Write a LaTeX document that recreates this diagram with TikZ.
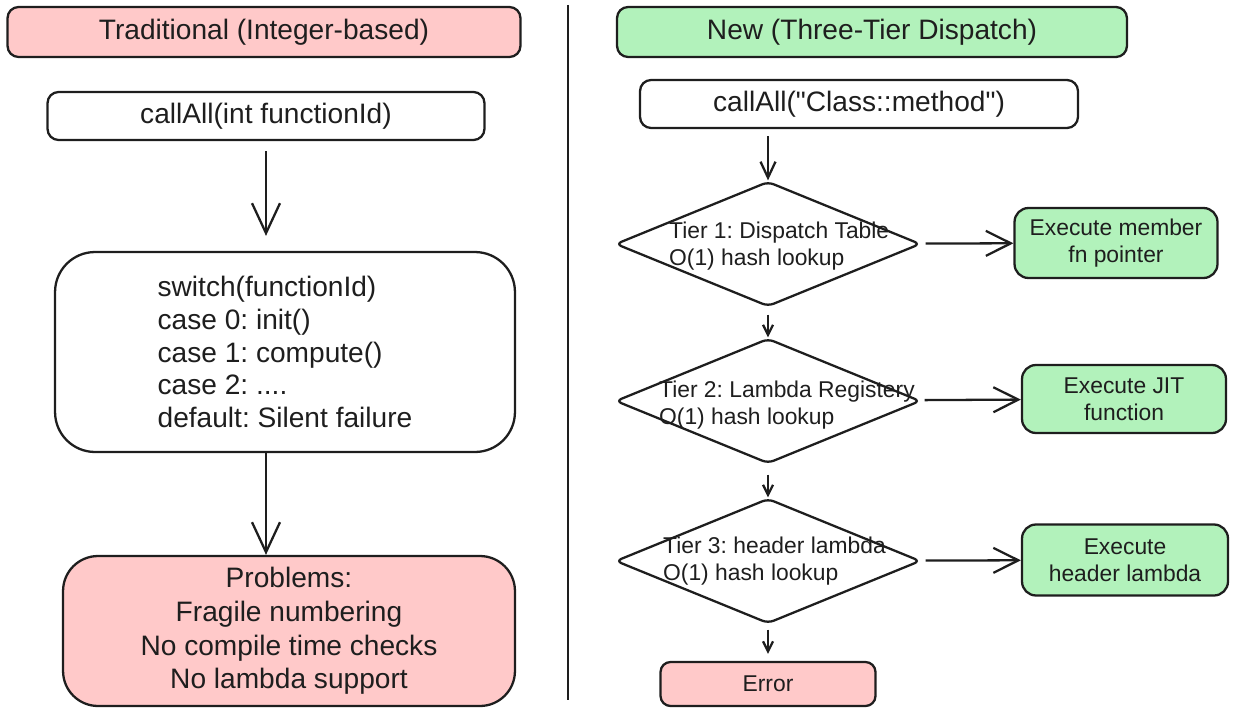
\documentclass[tikz,border=0pt]{standalone}
\usepackage{fontspec}
\setmainfont{Liberation Sans}
\usetikzlibrary{shapes.geometric,arrows.meta}
\definecolor{pinkfill}{HTML}{FFC9C9}
\definecolor{greenfill}{HTML}{B2F2BB}
\definecolor{ink}{HTML}{1E1E1E}
\frenchspacing
\begin{document}
\begin{tikzpicture}[x=0.02cm,y=-0.02cm,line width=1.3pt,ink,
    box/.style={draw=ink,rounded corners=0.22cm,inner sep=0pt,font=\fontsize{16}{18.7}\selectfont},
    tier/.style={draw=ink,shape=diamond,minimum width=6.1cm,minimum height=2.5cm,inner sep=0pt,rounded corners=0.12cm},
    tiertext/.style={anchor=west,align=left,inner sep=0pt,font=\fontsize{13}{15.3}\selectfont},
    exec/.style={box,fill=greenfill,rounded corners=0.28cm,align=center,font=\fontsize{13}{15.3}\selectfont},
    bigarr/.style={-{Straight Barb[length=0.6cm,width=0.56cm]}},
    midarr/.style={-{Straight Barb[length=0.5cm,width=0.5cm]}},
    toparr/.style={-{Straight Barb[length=0.32cm,width=0.3cm]}},
    smallarr/.style={-{Straight Barb[length=0.2cm,width=0.2cm]}}]
      \useasboundingbox (0,0) rectangle (1233,713);
      \node[box,fill=pinkfill,minimum width=10.26cm,minimum height=1cm] (oldhead) at (264,32) {Traditional (Integer-based)};
      \node[box,fill=greenfill,minimum width=10.2cm,minimum height=1cm] (newhead) at (872,32) {New (Three-Tier Dispatch)};
      \draw (568,5) -- (568,700);
      \node[box,minimum width=8.74cm,minimum height=0.96cm] (oldcall) at (266,116) {callAll(int functionId)};
      \node[box,rounded corners=0.8cm,minimum width=9.2cm,minimum height=4cm,align=left] (switch) at (285,352)
        {switch(functionId)\\case 0: init()\\case 1: compute()\\case 2: ....\\default: Silent failure};
      \node[box,fill=pinkfill,rounded corners=0.7cm,minimum width=9.04cm,minimum height=3cm,align=center,
        font=\fontsize{16}{19.2}\selectfont] (problems) at (289,631)
        {Problems:\\Fragile numbering\\No compile time checks\\No lambda support};
      \draw[bigarr,shorten <=0.2cm,shorten >=0.3cm] (oldcall.south) -- (switch.north -| oldcall);
      \draw[bigarr] (switch.south -| oldcall) -- (problems.north -| oldcall);
      \node[box,minimum width=8.76cm,minimum height=0.96cm] (newcall) at (859,104) {callAll(\textquotedbl Class::method\textquotedbl)};
      \node[tier] (tier1) at (768,244) {};
      \node[tier] (tier2) at (768,401) {};
      \node[tier] (tier3) at (768,561) {};
      \node[tiertext] (tier1txt) at (668,246) {Tier 1: Dispatch Table\\O(1) hash lookup};
      \node[tiertext] (tier2txt) at (658,405) {Tier 2: Lambda Registery\\O(1) hash lookup};
      \node[tiertext] (tier3txt) at (662,561) {Tier 3: header lambda\\O(1) hash lookup};
      \node[exec,minimum width=4.06cm,minimum height=1.4cm] (exec1) at (1116,243) {Execute member\\fn pointer};
      \node[exec,minimum width=4.08cm,minimum height=1.36cm] (exec2) at (1124,399) {Execute JIT\\function};
      \node[exec,minimum width=4.12cm,minimum height=1.42cm] (exec3) at (1125,560) {Execute\\header lambda};
      \node[box,fill=pinkfill,minimum width=4.3cm,minimum height=0.88cm,font=\fontsize{13}{15.3}\selectfont,rounded corners=0.2cm] (error) at (768,684) {Error};
      \draw[toparr,shorten <=0.14cm] (newcall.south -| tier1) -- (tier1.north);
      \draw[smallarr,shorten <=0.14cm] (tier1.south) -- (tier2.north);
      \draw[smallarr,shorten <=0.2cm] (tier2) -- (tier3);
      \draw[smallarr,shorten <=0.1cm,shorten >=0.14cm] (tier3) -- (error);
      \foreach \i in {1,2,3}
        \draw[midarr,shorten <=0.1cm] (tier\i) -- (exec\i);
    \end{tikzpicture}
\end{document}
